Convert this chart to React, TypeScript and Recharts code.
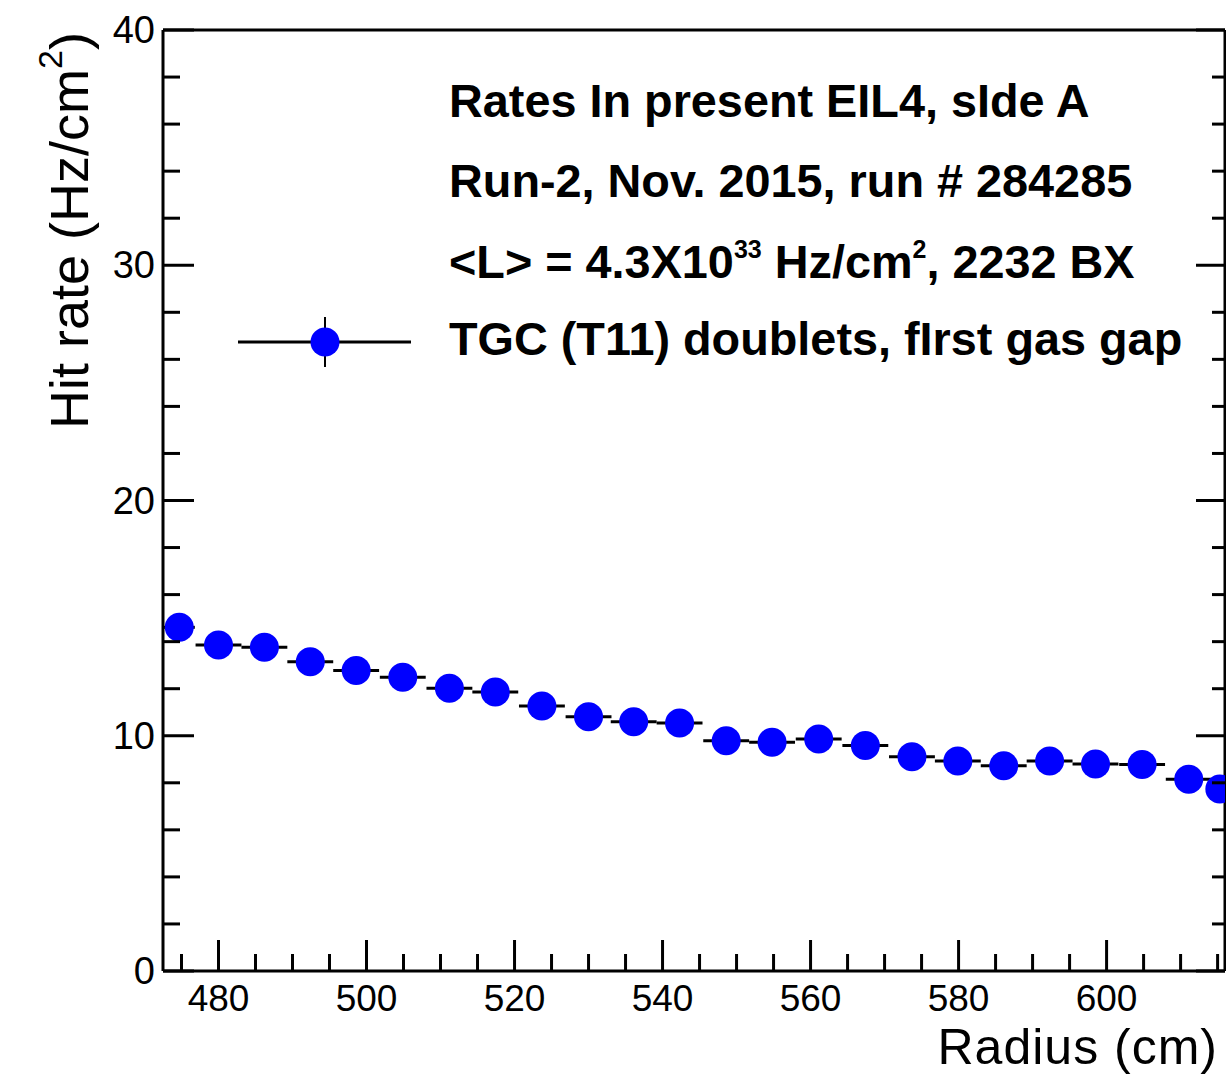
import React from "react";
import { ScatterChart, Scatter, XAxis, YAxis, ErrorBar } from "recharts";

const FONT = "'Liberation Sans', Arial, Helvetica, sans-serif";

// radius of the bin centre (cm) and the measured hit rate (Hz/cm2)
const radius = [
  474.7, 480.0, 486.2, 492.4, 498.6, 504.9, 511.2, 517.4, 523.7, 530.0, 536.1, 542.3,
  548.6, 554.8, 561.1, 567.4, 573.7, 579.9, 586.1, 592.3, 598.5, 604.8, 611.1, 615.3,
];
const hitRate = [
  14.61, 13.86, 13.76, 13.15, 12.77, 12.49, 12.02, 11.86, 11.26, 10.81, 10.6, 10.54,
  9.79, 9.72, 9.86, 9.59, 9.11, 8.93, 8.72, 8.93, 8.8, 8.78, 8.15, 7.74,
];
// half of the bin width, drawn as the horizontal error bar
const binHalfWidth = [
  2.1, 3.1, 3.1, 3.1, 3.1, 3.1, 3.1, 3.1, 3.1, 3.1, 3.1, 3.1,
  3.1, 3.1, 3.1, 3.1, 3.1, 3.1, 3.1, 3.1, 3.1, 3.1, 3.1, 1.2,
];

const xMajorTicks = [480, 500, 520, 540, 560, 580, 600];
const xMinorTicks = [
  475, 485, 490, 495, 505, 510, 515, 525, 530, 535, 545, 550, 555, 565, 570, 575,
  585, 590, 595, 605, 610, 615,
];
const yMajorTicks = [0, 10, 20, 30, 40];
const yMinorTicks = [2, 4, 6, 8, 12, 14, 16, 18, 22, 24, 26, 28, 32, 34, 36, 38];

const xTicks = [...xMajorTicks, ...xMinorTicks].sort((a, b) => a - b);
const yTicks = [...yMajorTicks, ...yMinorTicks].sort((a, b) => a - b);

const data = radius.map((r, i) => ({ radius: r, rate: hitRate[i], xErr: binHalfWidth[i] }));

const BottomTick = ({ x, y, payload }: any) => {
  const major = xMajorTicks.includes(payload.value);
  return (
    <g>
      <line x1={x} y1={y} x2={x} y2={y - (major ? 31 : 17)} stroke="#000" strokeWidth={3} />
      {major && (
        <text x={x} y={y + 40} textAnchor="middle" fontSize={37} fontFamily={FONT} fill="#000">
          {payload.value}
        </text>
      )}
    </g>
  );
};

const TopTick = ({ x, y, payload }: any) => {
  const major = xMajorTicks.includes(payload.value);
  return <line x1={x} y1={y} x2={x} y2={y + (major ? 27 : 13)} stroke="#000" strokeWidth={3} />;
};

const LeftTick = ({ x, y, payload }: any) => {
  const major = yMajorTicks.includes(payload.value);
  return (
    <g>
      <line x1={x} y1={y} x2={x + (major ? 31 : 17)} y2={y} stroke="#000" strokeWidth={3} />
      {major && (
        <text x={x - 8} y={y + 13} textAnchor="end" fontSize={38} fontFamily={FONT} fill="#000">
          {payload.value}
        </text>
      )}
    </g>
  );
};

const RightTick = ({ x, y, payload }: any) => {
  const major = yMajorTicks.includes(payload.value);
  return <line x1={x} y1={y} x2={x - (major ? 29 : 13)} y2={y} stroke="#000" strokeWidth={3} />;
};

const Marker = (props: any) => <circle cx={props.cx} cy={props.cy} r={14.5} fill="#0000ff" />;

const frame = { stroke: "#000", strokeWidth: 3 };

const App = () => {
  return (
    <div style={{ position: "absolute", left: 0, top: 0, width: 1226, height: 1075, background: "#fff" }}>
      <ScatterChart width={1226} height={1075} margin={{ top: 0, right: 0, bottom: 0, left: 0 }}>
        <XAxis
          xAxisId="bottom"
          type="number"
          dataKey="radius"
          domain={[472.5, 616]}
          allowDataOverflow
          ticks={xTicks}
          interval={0}
          height={104}
          tickSize={0}
          tickMargin={0}
          tickLine={false}
          axisLine={frame}
          tick={(p: any) => <BottomTick {...p} />}
        />
        <XAxis
          xAxisId="top"
          orientation="top"
          type="number"
          domain={[472.5, 616]}
          allowDataOverflow
          ticks={xTicks}
          interval={0}
          height={30}
          tickSize={0}
          tickMargin={0}
          tickLine={false}
          axisLine={frame}
          tick={(p: any) => <TopTick {...p} />}
        />
        <YAxis
          yAxisId="left"
          type="number"
          dataKey="rate"
          domain={[0, 40]}
          allowDataOverflow
          ticks={yTicks}
          interval={0}
          width={163}
          tickSize={0}
          tickMargin={0}
          tickLine={false}
          axisLine={frame}
          tick={(p: any) => <LeftTick {...p} />}
        />
        <YAxis
          yAxisId="right"
          orientation="right"
          type="number"
          domain={[0, 40]}
          allowDataOverflow
          ticks={yTicks}
          interval={0}
          width={1}
          tickSize={0}
          tickMargin={0}
          tickLine={false}
          axisLine={frame}
          tick={(p: any) => <RightTick {...p} />}
        />
        <Scatter
          xAxisId="bottom"
          yAxisId="left"
          data={data}
          shape={<Marker />}
          isAnimationActive={false}
        >
          <ErrorBar dataKey="xErr" direction="x" width={0} stroke="#000" strokeWidth={3} />
        </Scatter>
      </ScatterChart>

      <svg
        width={1226}
        height={1075}
        style={{ position: "absolute", left: 0, top: 0, pointerEvents: "none" }}
      >
        <text
          transform="translate(88, 32) rotate(-90)"
          textAnchor="end"
          fontSize={54}
          fontFamily={FONT}
          fill="#000"
        >
          Hit rate (Hz/cm
          <tspan dy={-26} fontSize={34}>2</tspan>
          <tspan dy={26}>)</tspan>
        </text>
        <text
          x={1218}
          y={1064}
          textAnchor="end"
          fontSize={50}
          letterSpacing={1}
          fontFamily={FONT}
          fill="#000"
        >
          Radius (cm)
        </text>

        <g fontFamily={FONT} fontWeight="bold" fontSize={46.8} fill="#000">
          <text x={449} y={117}>Rates In present EIL4, sIde A</text>
          <text x={449} y={197}>Run-2, Nov. 2015, run # 284285</text>
          <text x={449} y={278}>
            {"<L> = 4.3X10"}
            <tspan dy={-20} fontSize={25}>33</tspan>
            <tspan dy={20}> Hz/cm</tspan>
            <tspan dy={-20} fontSize={25}>2</tspan>
            <tspan dy={20}>, 2232 BX</tspan>
          </text>
          <text x={449} y={355}>TGC (T11) doublets, fIrst gas gap</text>
        </g>

        <line x1={238} y1={342} x2={411} y2={342} stroke="#000" strokeWidth={3} />
        <line x1={325} y1={317} x2={325} y2={367} stroke="#000" strokeWidth={2} />
        <circle cx={325} cy={342} r={14.5} fill="#0000ff" />
      </svg>
    </div>
  );
};

export default App;
